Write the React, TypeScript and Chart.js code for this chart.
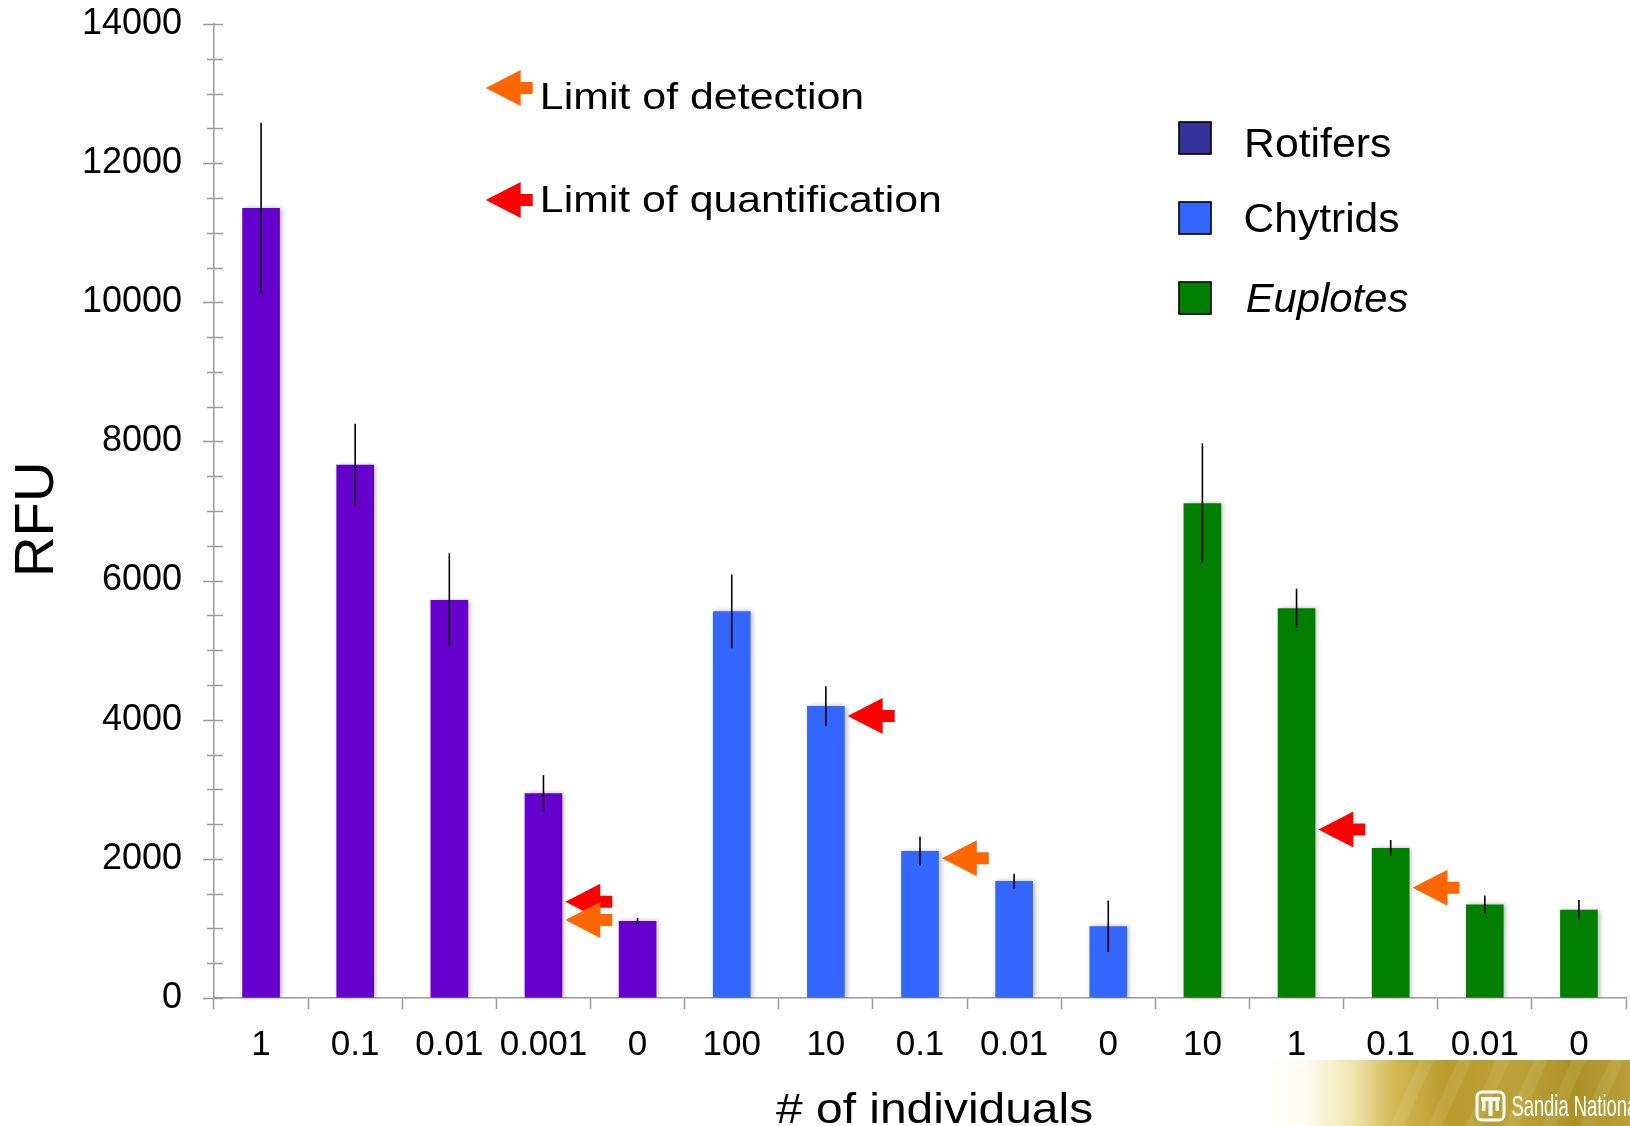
import React, { useEffect, useRef } from 'react';
import { Chart, registerables } from 'chart.js';

Chart.register(...registerables);

// ---------------- data ----------------
const categories = ['1', '0.1', '0.01', '0.001', '0', '100', '10', '0.1', '0.01', '0', '10', '1', '0.1', '0.01', '0'];
const seriesNames = ['Rotifers', 'Chytrids', 'Euplotes'];
const rotifersValues = [11355, 7665, 5722, 2943, 1106];
const rotifersErrors = [1225, 590, 670, 260, 45];
const chytridsValues = [5558, 4197, 2113, 1680, 1031];
const chytridsErrors = [530, 283, 206, 106, 370];
const euplotesValues = [7112, 5603, 2156, 1345, 1270];
const euplotesErrors = [860, 280, 115, 130, 140];
const yMin = 0;
const yMax = 14000;
const yStep = 2000;
const yMinorStep = 500;

// limit markers: series, bar index within series, value, kind
const markerSeries = [0, 0, 1, 1, 2, 2];
const markerBar = [3, 3, 1, 2, 1, 2];
const markerValues = [1383, 1120, 4053, 2010, 2422, 1584];
const markerKinds = ['quant', 'detect', 'quant', 'detect', 'quant', 'detect'];

// ---------------- styles ----------------
const FONT = '"Liberation Sans", Arial, Helvetica, sans-serif';
const barColors = ['#6600CC', '#3366FF', '#007F00'];
const legendColors = ['#333399', '#3366FF', '#007F00'];
const detectColor = '#FF6600';
const quantColor = '#FF0000';
const axisColor = '#9a9a9a';

const seriesValues = [rotifersValues, chytridsValues, euplotesValues];
const seriesErrors = [rotifersErrors, chytridsErrors, euplotesErrors];

function drawArrow(ctx: CanvasRenderingContext2D, tipX: number, cy: number, color: string) {
  ctx.save();
  ctx.fillStyle = color;
  ctx.beginPath();
  ctx.moveTo(tipX, cy);
  ctx.lineTo(tipX + 35, cy - 18);
  ctx.lineTo(tipX + 35, cy - 6);
  ctx.lineTo(tipX + 47, cy - 6);
  ctx.lineTo(tipX + 47, cy + 6);
  ctx.lineTo(tipX + 35, cy + 6);
  ctx.lineTo(tipX + 35, cy + 18);
  ctx.closePath();
  ctx.fill();
  ctx.restore();
}

function drawFitText(
  ctx: CanvasRenderingContext2D,
  text: string,
  inkLeft: number,
  baseline: number,
  size: number,
  targetWidth: number,
  opts: { italic?: boolean; color?: string; rotate?: boolean; family?: string } = {}
) {
  ctx.save();
  ctx.font = `${opts.italic ? 'italic ' : ''}${size}px ${opts.family || FONT}`;
  ctx.textAlign = 'left';
  ctx.textBaseline = 'alphabetic';
  ctx.fillStyle = opts.color || '#000';
  const m = ctx.measureText(text);
  const ink = m.actualBoundingBoxLeft + m.actualBoundingBoxRight;
  const sx = targetWidth / ink;
  ctx.translate(inkLeft, baseline);
  if (opts.rotate) ctx.rotate(-Math.PI / 2);
  ctx.scale(sx, 1);
  ctx.fillText(text, m.actualBoundingBoxLeft, 0);
  ctx.restore();
}

const shadowPlugin = {
  id: 'barShadow',
  beforeDatasetsDraw(chart: any) {
    const c = chart.ctx;
    c.save();
    c.shadowColor = 'rgba(0,0,0,0.28)';
    c.shadowBlur = 5;
    c.shadowOffsetX = 2;
    c.shadowOffsetY = 0;
  },
  afterDatasetsDraw(chart: any) {
    chart.ctx.restore();
  },
};

const errorBarPlugin = {
  id: 'errorBars',
  afterDatasetsDraw(chart: any) {
    const ctx = chart.ctx;
    const ys = chart.scales.y;
    ctx.save();
    ctx.strokeStyle = '#000';
    ctx.lineWidth = 1.6;
    seriesValues.forEach((vals, s) => {
      const meta = chart.getDatasetMeta(s);
      vals.forEach((v, j) => {
        const el = meta.data[s * 5 + j];
        if (!el) return;
        const e = seriesErrors[s][j];
        ctx.beginPath();
        ctx.moveTo(el.x, ys.getPixelForValue(v + e));
        ctx.lineTo(el.x, ys.getPixelForValue(v - e));
        ctx.stroke();
      });
    });
    ctx.restore();
  },
};

const markerPlugin = {
  id: 'limitMarkers',
  afterDatasetsDraw(chart: any) {
    const ctx = chart.ctx;
    const ys = chart.scales.y;
    markerValues.forEach((v, k) => {
      const s = markerSeries[k];
      const el = chart.getDatasetMeta(s).data[s * 5 + markerBar[k]];
      if (!el) return;
      const tipX = el.x + el.width / 2 + 3;
      drawArrow(ctx, tipX, ys.getPixelForValue(v), markerKinds[k] === 'quant' ? quantColor : detectColor);
    });
  },
};

const decorPlugin = {
  id: 'decor',
  afterDraw(chart: any) {
    const ctx = chart.ctx;
    const ys = chart.scales.y;
    const ax = chart.chartArea.left;

    // y axis tick marks crossing the axis
    ctx.save();
    ctx.strokeStyle = axisColor;
    ctx.lineWidth = 1.5;
    for (let v = yMin; v <= yMax; v += yMinorStep) {
      const y = Math.round(ys.getPixelForValue(v)) + 0.5;
      const major = v % yStep === 0;
      ctx.beginPath();
      ctx.moveTo(ax - (major ? 11 : 7), y);
      ctx.lineTo(ax + 9, y);
      ctx.stroke();
    }
    ctx.restore();

    // axis titles
    drawFitText(ctx, 'RFU', 53.3, 573, 56, 108, { rotate: true });
    drawFitText(ctx, '# of individuals', 776, 1123, 42, 316);

    // limit legend
    drawArrow(ctx, 485.7, 88, detectColor);
    drawFitText(ctx, 'Limit of detection', 543.3, 109.3, 37, 319);
    drawArrow(ctx, 485.7, 200, quantColor);
    drawFitText(ctx, 'Limit of quantification', 543.3, 211.7, 37, 396.7);

    // series legend
    const boxY = [122, 202, 282];
    const textBase = [156.7, 231.7, 311.7];
    const textW = [143, 152.7, 161.7];
    const textX = [1247.3, 1245.7, 1246.7];
    seriesNames.forEach((name, i) => {
      ctx.save();
      ctx.fillStyle = legendColors[i];
      ctx.fillRect(1179, boxY[i], 32, 32);
      ctx.strokeStyle = '#000';
      ctx.lineWidth = 1.6;
      ctx.strokeRect(1179, boxY[i], 32, 32);
      ctx.restore();
      drawFitText(ctx, name, textX[i], textBase[i], 40, textW[i], { italic: i === 2 });
    });

    // institutional banner (bottom right)
    ctx.save();
    const g = ctx.createLinearGradient(1262, 0, 1630, 0);
    g.addColorStop(0, 'rgba(255,255,255,1)');
    g.addColorStop(0.12, 'rgba(253,251,238,1)');
    g.addColorStop(0.24, '#f1e7b4');
    g.addColorStop(0.36, '#d2b955');
    g.addColorStop(0.5, '#b79c2e');
    g.addColorStop(0.7, '#bba13a');
    g.addColorStop(0.85, '#ab9126');
    g.addColorStop(1, '#b99f3a');
    ctx.fillStyle = g;
    ctx.fillRect(1262, 1060, 368, 66);
    // soft diagonal streaks
    ctx.globalAlpha = 0.1;
    ctx.fillStyle = '#fff8d0';
    for (let i = 0; i < 6; i++) {
      const x0 = 1420 + i * 38;
      ctx.beginPath();
      ctx.moveTo(x0, 1060);
      ctx.lineTo(x0 + 14, 1060);
      ctx.lineTo(x0 - 16, 1126);
      ctx.lineTo(x0 - 30, 1126);
      ctx.closePath();
      ctx.fill();
    }
    ctx.globalAlpha = 1;
    // logo
    ctx.strokeStyle = '#fff';
    ctx.lineWidth = 3;
    ctx.beginPath();
    ctx.roundRect(1477, 1092, 27, 28, 5);
    ctx.stroke();
    ctx.fillStyle = '#fff';
    ctx.fillRect(1481, 1097, 19, 4);
    ctx.fillRect(1488.5, 1097, 4, 19);
    ctx.fillRect(1482, 1101, 3.5, 10);
    ctx.fillRect(1495.5, 1101, 3.5, 10);
    ctx.restore();
    drawFitText(ctx, 'Sandia National Laboratories', 1512, 1116, 30, 236, { color: '#fff' });
  },
};

export default function App() {
  const canvasRef = useRef<HTMLCanvasElement | null>(null);

  useEffect(() => {
    document.body.style.margin = '0';
    const canvas = canvasRef.current;
    if (!canvas) return;
    const datasets = seriesNames.map((name, s) => ({
      label: name,
      data: categories.map((_, i) => (i >= s * 5 && i < s * 5 + 5 ? seriesValues[s][i - s * 5] : null)),
      backgroundColor: barColors[s],
      borderWidth: 0,
      grouped: false,
      barPercentage: 0.4,
      categoryPercentage: 1,
    }));

    const chart = new Chart(canvas, {
      type: 'bar',
      data: { labels: categories, datasets },
      options: {
        animation: false,
        responsive: false,
        events: [],
        layout: { padding: { top: 24, right: 4, left: 0, bottom: 0 } },
        font: { family: FONT },
        plugins: {
          legend: { display: false },
          tooltip: { enabled: false },
          title: { display: false },
        },
        scales: {
          x: {
            type: 'category',
            offset: true,
            grid: {
              display: true,
              drawOnChartArea: false,
              offset: true,
              tickLength: 11,
              tickColor: axisColor,
              tickWidth: 1.5,
            },
            border: { display: true, color: axisColor, width: 1.5 },
            ticks: {
              color: '#000',
              font: { family: FONT, size: 35 },
              padding: 15,
              maxRotation: 0,
              minRotation: 0,
              autoSkip: false,
            },
            afterFit: (scale: any) => {
              scale.height = 128;
            },
          },
          y: {
            min: yMin,
            max: yMax,
            grid: {
              display: true,
              drawOnChartArea: false,
              tickLength: 32,
              tickColor: 'rgba(0,0,0,0)',
            },
            border: { display: true, color: axisColor, width: 1.5 },
            ticks: {
              stepSize: yStep,
              color: '#000',
              font: { family: FONT, size: 36 },
              padding: 0,
              callback: (v: any) => String(v),
            },
            afterFit: (scale: any) => {
              scale.width = 214;
            },
          },
        },
      } as any,
      plugins: [shadowPlugin, errorBarPlugin, markerPlugin, decorPlugin],
    });
    return () => chart.destroy();
  }, []);

  return (
    <div style={{ position: 'absolute', left: 0, top: 0, width: 1630, height: 1126, background: '#fff' }}>
      <canvas ref={canvasRef} width={1630} height={1126} style={{ display: 'block', width: 1630, height: 1126 }} />
    </div>
  );
}
